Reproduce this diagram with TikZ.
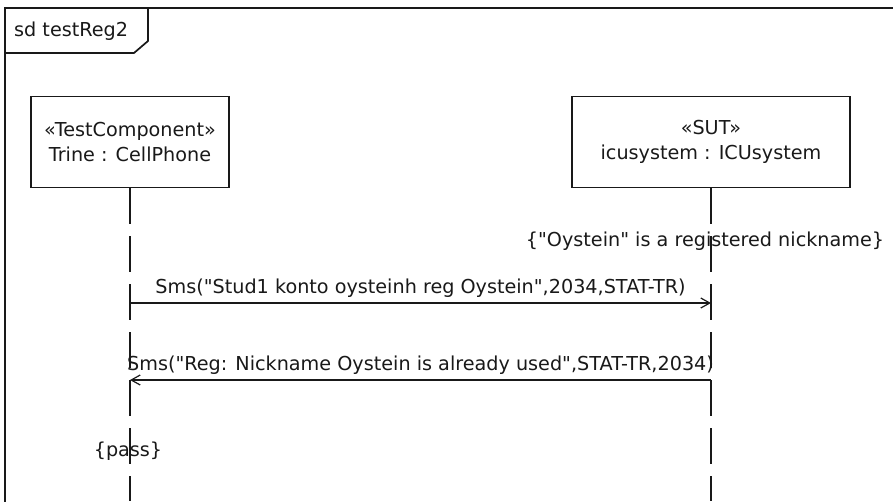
\documentclass[tikz,border=0pt]{standalone}
\usepackage{fontspec}
\setmainfont{DejaVu Sans}
\usetikzlibrary{arrows.meta}
\begin{document}
\begin{tikzpicture}[x=1pt,y=-1pt,
  every node/.style={font=\fontsize{19.2}{23}\selectfont, text=black!90},
  frameline/.style={line width=1.7pt, draw=black!90},
  objbox/.style={draw=black!90, line width=1.4pt, minimum width=198pt, minimum height=91pt, align=center, inner sep=0pt},
  lifeline/.style={draw=black!90, line width=1.4pt, dash pattern=on 36pt off 12pt},
  msg/.style={draw=black!90, line width=1.2pt, -{Straight Barb[length=9pt,width=10pt,line width=1.2pt]}},
  lbl/.style={inner sep=0pt}
]
\useasboundingbox (0,0) rectangle (893,501);
\fill[white] (0,0) rectangle (893,501);
\clip (0,0) rectangle (893,501);
% frame
\draw[frameline] (5,8) rectangle (905,515);
\draw[frameline] (5,53) -- (134,53) -- (148,41) -- (148,8);
\node[lbl, anchor=west] (title) at (14,31) {sd testReg2};
% objects
\node[objbox] (tc) at (130,142) {«TestComponent»\\[2pt]Trine : CellPhone};
\node[objbox, minimum width=278pt] (sut) at (711,142) {«SUT»\\[2pt]icusystem : ICUsystem};
% lifeline ends
\coordinate (tcend) at (130,501);
\coordinate (sutend) at (711,501);
\draw[lifeline] (tc.south) -- (tcend);
\draw[lifeline] (sut.south) -- (sutend);
% constraint
\node[lbl] (cons) at (705,241) {\{\textquotedbl Oystein\textquotedbl\ is a registered nickname\}};
% messages
\coordinate (m1s) at (130,303);
\coordinate (m1e) at (711,303);
\coordinate (m2s) at (711,380);
\coordinate (m2e) at (130,380);
\draw[msg] (m1s) -- node[lbl, above=5pt] (l1) {Sms(\textquotedbl Stud1 konto oysteinh reg Oystein\textquotedbl,2034,STAT-TR)} (m1e);
\draw[msg] (m2s) -- node[lbl, above=5pt] (l2) {Sms(\textquotedbl Reg: Nickname Oystein is already used\textquotedbl,STAT-TR,2034)} (m2e);
% pass
\node[lbl] (pass) at (128,451) {\{pass\}};
\end{tikzpicture}
\end{document}
